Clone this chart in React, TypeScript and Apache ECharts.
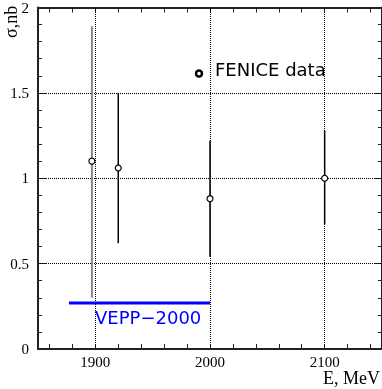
import React, { useEffect, useRef } from 'react';
import * as echarts from 'echarts';

const energies = [1897, 1920, 2000, 2100];
const sigma = [1.1, 1.06, 0.88, 1.0];
const errLow = [0.3, 0.62, 0.54, 0.73];
const errHigh = [1.89, 1.5, 1.22, 1.28];
const barColors = ['#888888', '#000000', '#000000', '#000000'];
const veppE = [1877, 2000];
const veppSigma = [0.27, 0.27];
const xLabels = [1900, 2000, 2100];
const xTicks = [1860, 1880, 1900, 1920, 1940, 1960, 1980, 2000, 2020, 2040, 2060, 2080, 2100, 2120, 2140];
const yGrid = [0.5, 1, 1.5];

const serif = 'Liberation Serif';
const sans = 'DejaVu Sans';
const axisColor = '#222';

export default function App() {
  const ref = useRef<HTMLDivElement>(null);
  useEffect(() => {
    if (!ref.current) return;
    const chart = echarts.init(ref.current, null, { renderer: 'svg' });
    const xBase = {
      type: 'value',
      min: 1850,
      max: 2150,
      interval: 50,
      splitLine: { show: false },
      axisLine: { show: true, onZero: false, lineStyle: { color: axisColor, width: 2 } },
      axisTick: { show: true, inside: true, length: 5, customValues: xTicks, lineStyle: { color: axisColor, width: 1 } },
    };
    const yBase = {
      type: 'value',
      min: 0,
      max: 2,
      interval: 0.5,
      splitLine: { show: false },
      axisLine: { show: true, onZero: false, lineStyle: { color: axisColor, width: 2 } },
      axisTick: { show: true, inside: true, length: 8, lineStyle: { color: axisColor, width: 1 } },
      minorTick: { show: true, splitNumber: 5, length: 4, lineStyle: { color: axisColor, width: 1 } },
      minorSplitLine: { show: false },
    };
    chart.setOption({
      animation: false,
      grid: { left: 38, right: -1, top: 5, bottom: 40 },
      xAxis: [
        {
          ...xBase,
          position: 'bottom',
          axisLabel: {
            customValues: xLabels,
            fontFamily: serif,
            fontSize: 15,
            color: '#000',
            margin: 5,
            formatter: (v: number) => String(v),
          },
        },
        { ...xBase, position: 'top', axisLabel: { show: false } },
      ],
      yAxis: [
        {
          ...yBase,
          position: 'left',
          axisLabel: {
            fontFamily: serif,
            fontSize: 15,
            color: '#000',
            margin: 9,
            formatter: (v: number) => String(v),
          },
        },
        { ...yBase, position: 'right', axisLabel: { show: false } },
      ],
      series: [
        {
          type: 'line',
          data: veppE.map((e, i) => [e, veppSigma[i]]),
          symbol: 'none',
          lineStyle: { color: '#0000ff', width: 3 },
          z: 3,
          markLine: {
            silent: true,
            symbol: ['none', 'none'],
            label: { show: false },
            lineStyle: { type: [1, 1], color: '#000', width: 1 },
            data: [
              ...xLabels.map((v) => ({ xAxis: v })),
              ...yGrid.map((v) => ({ yAxis: v })),
            ],
            z: 1,
          },
        },
        {
          type: 'custom',
          data: energies.map((e, i) => [e, errLow[i], errHigh[i], i]),
          encode: { x: 0, y: [1, 2] },
          renderItem: (params: any, api: any) => {
            const lo = api.coord([api.value(0), api.value(1)]);
            const hi = api.coord([api.value(0), api.value(2)]);
            const i = api.value(3);
            return {
              type: 'line',
              shape: { x1: lo[0], y1: lo[1], x2: hi[0], y2: hi[1] },
              style: { stroke: barColors[i], lineWidth: i === 0 ? 2 : 1.5 },
            };
          },
          z: 4,
        },
        {
          type: 'scatter',
          data: energies.map((e, i) => [e, sigma[i]]),
          symbol: 'circle',
          symbolSize: 6,
          itemStyle: { color: '#fff', borderColor: '#000', borderWidth: 1.2, opacity: 1 },
          z: 5,
        },
      ],
      graphic: [
        {
          type: 'circle',
          shape: { cx: 199, cy: 73.5, r: 3 },
          style: { fill: '#fff', stroke: '#000', lineWidth: 2.5 },
          z: 10,
        },
        {
          type: 'text',
          x: 215,
          y: 69.5,
          style: { text: 'FENICE data', fontFamily: sans, fontSize: 18, fill: '#000', align: 'left', verticalAlign: 'middle' },
          z: 10,
        },
        {
          type: 'text',
          x: 95,
          y: 317.5,
          style: { text: 'VEPP\u22122000', fontFamily: sans, fontSize: 18, fill: '#0000ff', align: 'left', verticalAlign: 'middle' },
          z: 10,
        },
        {
          type: 'text',
          x: 323,
          y: 378,
          style: { text: 'E, MeV', fontFamily: serif, fontSize: 18, fill: '#000', align: 'left', verticalAlign: 'middle' },
          z: 10,
        },
        {
          type: 'text',
          x: 11,
          y: 38,
          rotation: Math.PI / 2,
          style: { text: 'σ,nb', fontFamily: serif, fontSize: 18, fill: '#000', align: 'left', verticalAlign: 'middle' },
          z: 10,
        },
      ],
    });
    return () => chart.dispose();
  }, []);
  return <div ref={ref} style={{ position: 'fixed', left: 0, top: 0, width: 382, height: 389 }} />;
}
